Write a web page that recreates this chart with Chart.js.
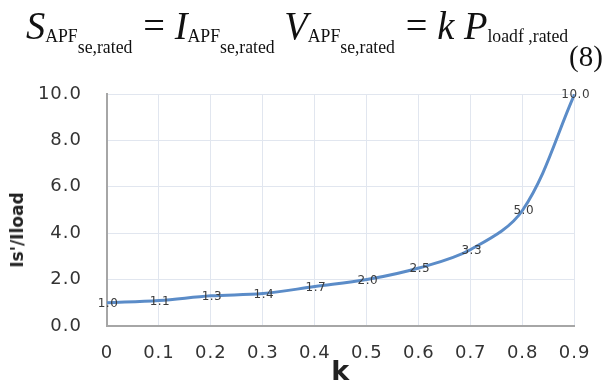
<!DOCTYPE html>
<html>
<head>
<meta charset="utf-8">
<script src="https://cdn.jsdelivr.net/npm/chart.js@4.4.0/dist/chart.umd.min.js"></script>
<style>
    html, body { margin: 0; padding: 0; background: #fff; }
    body { width: 606px; height: 385px; position: relative; overflow: hidden; }
    #wrap { position: absolute; left: 0; top: 0; width: 606px; height: 385px; }
    .eq {
        position: absolute; left: 26px; top: 3px; z-index: 2;
        font-family: "Liberation Serif", "DejaVu Serif", serif;
        font-size: 39px; color: #111; white-space: nowrap;
        transform-origin: 0 0; transform: scaleX(0.985);
    }
    .eq i { font-style: italic; }
    .eq .sub { font-size: 18px; position: relative; top: 3px; }
    .eq .sub2 { font-size: 18px; position: relative; top: 11px; }
    .eq .op { margin: 0 10px 0 11px; }
    .num {
        position: absolute; left: 569px; top: 40px; z-index: 2;
        font-family: "Liberation Serif", "DejaVu Serif", serif;
        font-size: 29px; color: #111;
    }
    .ytitle {
        position: absolute; left: 17px; top: 230px; z-index: 2;
        transform: translate(-50%, -50%) rotate(-90deg);
        font-family: "DejaVu Sans", sans-serif; font-weight: bold;
        font-size: 17px; color: #222; white-space: nowrap;
    }
</style>
</head>
<body>
<div id="wrap"><canvas id="chart"></canvas></div>
<div class="eq"><i>S</i><span class="sub">APF<span class="sub2">se,rated</span></span><span class="op">=</span><i>I</i><span class="sub">APF<span class="sub2">se,rated</span></span> <i>V</i><span class="sub">APF<span class="sub2">se,rated</span></span><span class="op">=</span><i>k</i> <i>P</i><span class="sub">loadf ,rated</span></div>
<div class="num">(8)</div>
<div class="ytitle">Is'/Iload</div>
<script>
const kValues = [0, 0.1, 0.2, 0.3, 0.4, 0.5, 0.6, 0.7, 0.8, 0.9];
const ratioValues = [1.0, 1.1, 1.3, 1.4, 1.7, 2.0, 2.5, 3.3, 5.0, 10.0];
const pointLabels = ['1.0', '1.1', '1.3', '1.4', '1.7', '2.0', '2.5', '3.3', '5.0', '10.0'];

// the source font is a little wider than DejaVu
const wideText = {
    id: 'wideText',
    beforeDraw(chart) {
        chart.ctx.letterSpacing = '1px';
    }
};

// draws the value on each point, like the excel data labels
const valueLabels = {
    id: 'valueLabels',
    afterDatasetsDraw(chart) {
        const ctx = chart.ctx;
        const meta = chart.getDatasetMeta(0);
        ctx.save();
        ctx.letterSpacing = '0.5px';
        ctx.font = '12px "DejaVu Sans", sans-serif';
        ctx.fillStyle = '#3c3c3c';
        ctx.textAlign = 'center';
        ctx.textBaseline = 'middle';
        meta.data.forEach((pt, i) => {
            ctx.fillText(pointLabels[i], pt.x + 1, pt.y + 1);
        });
        ctx.restore();
    }
};

const gridColor = '#e1e6ef';
const tickFont = { family: '"DejaVu Sans", sans-serif', size: 18 };

new Chart(document.getElementById('chart'), {
    type: 'line',
    data: {
        datasets: [{
            data: kValues.map((k, i) => ({ x: k, y: ratioValues[i] })),
            borderColor: '#5b8cc8',
            borderWidth: 3,
            pointRadius: 0,
            fill: false,
            tension: 0.35
        }]
    },
    options: {
        responsive: true,
        maintainAspectRatio: false,
        animation: false,
        layout: { padding: { top: 94, right: 19, left: 0, bottom: 0 } },
        plugins: { legend: { display: false }, tooltip: { enabled: false } },
        scales: {
            x: {
                type: 'linear',
                min: 0,
                max: 0.9,
                afterFit: scale => { scale.height = 59; },
                ticks: {
                    stepSize: 0.1,
                    padding: 17,
                    color: '#333',
                    font: tickFont,
                    maxRotation: 0,
                    callback: v => v === 0 ? '0' : v.toFixed(1)
                },
                grid: { color: gridColor, drawTicks: false },
                border: { color: '#a6a6a6', width: 2 },
                title: {
                    display: true,
                    text: 'k',
                    color: '#222',
                    padding: { top: 0, bottom: -4 },
                    font: { family: '"DejaVu Sans", sans-serif', size: 27, weight: 'bold' }
                }
            },
            y: {
                min: 0,
                max: 10,
                afterFit: scale => { scale.width = 107; },
                ticks: {
                    stepSize: 2,
                    padding: 25,
                    color: '#333',
                    font: tickFont,
                    callback: v => v.toFixed(1)
                },
                grid: { color: gridColor, drawTicks: false },
                border: { color: '#a6a6a6', width: 2 }
            }
        }
    },
    plugins: [wideText, valueLabels]
});
</script>
</body>
</html>
